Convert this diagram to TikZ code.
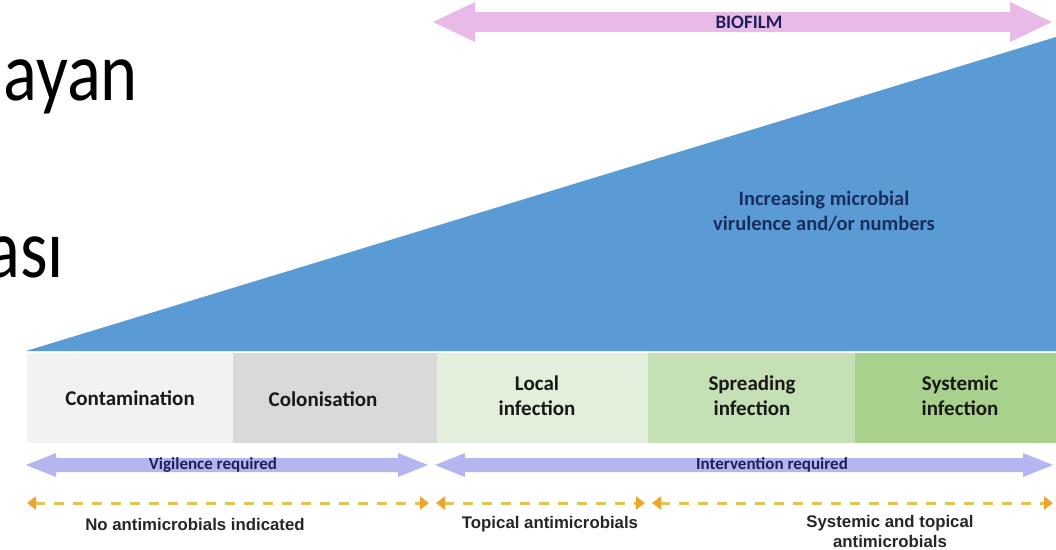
\documentclass[tikz,border=0pt]{standalone}
\usepackage{fontspec}
\setmainfont{Carlito}
\newfontfamily\arialf{Liberation Sans}
\usetikzlibrary{arrows.meta}
\definecolor{triblue}{RGB}{91,155,213}
\definecolor{biopink}{RGB}{233,186,232}
\definecolor{lav}{RGB}{180,182,240}
\definecolor{cA}{RGB}{242,242,242}
\definecolor{cB}{RGB}{217,217,217}
\definecolor{cC}{RGB}{226,239,218}
\definecolor{cD}{RGB}{197,224,180}
\definecolor{cE}{RGB}{169,209,142}
\definecolor{navy}{RGB}{30,32,90}
\definecolor{navyB}{RGB}{25,45,95}
\definecolor{goldd}{RGB}{226,196,84}
\definecolor{orangetip}{RGB}{238,165,45}
\newcommand\mydblarrow[7]{%
  \fill[#7] (#1,#3) -- ({#1+#4},{#3-#5}) -- ({#1+#4},{#3-#6}) -- ({#2-#4},{#3-#6}) -- ({#2-#4},{#3-#5}) -- (#2,#3)
    -- ({#2-#4},{#3+#5}) -- ({#2-#4},{#3+#6}) -- ({#1+#4},{#3+#6}) -- ({#1+#4},{#3+#5}) -- cycle;}
\tikzset{
  stagebox/.style={anchor=north west, minimum height=90pt, inner sep=0pt},
  stagelbl/.style={inner sep=0pt, align=center,
    font=\bfseries\fontsize{21}{25}\selectfont, text=black!90},
  arrlbl/.style={inner sep=0pt, font=\bfseries\fontsize{17}{20}\selectfont, text=navy},
  bottomlbl/.style={inner sep=0pt, align=center, font=\arialf\bfseries\fontsize{16.8}{20}\selectfont, text=black!85},
  dasharr/.style={draw=goldd, line width=3pt, dash pattern=on 10pt off 9pt,
    {Triangle[length=9pt,width=13pt,color=orangetip]}-{Triangle[length=9pt,width=13pt,color=orangetip]}},
  bigtxt/.style={anchor=base east, inner sep=0pt, font=\fontsize{84}{84}\selectfont, xscale=0.84, transform shape}
}
\begin{document}
\begin{tikzpicture}[x=1pt,y=-1pt]
\useasboundingbox (0,0) rectangle (1056,549);
\fill[white] (0,0) rectangle (1056,549);
\begin{scope}
\clip (0,0) rectangle (1056,549);
\node[bigtxt] (t1) at (138,100) {ayan};
\node[bigtxt] (t2) at (64,277) {ası};
\end{scope}
% biofilm arrow
\mydblarrow{433}{1052}{22}{42}{20}{10}{biopink}
\node[arrlbl, font=\bfseries\fontsize{19}{20}\selectfont] (bio) at (749,22) {BIOFILM};
% triangle
\fill[triblue] (26,351) -- (1056,37) -- (1056,351) -- cycle;
\node[inner sep=0pt, align=center, font=\bfseries\fontsize{20.5}{25}\selectfont, text=navyB] (incr) at (824,211)
  {Increasing microbial\\virulence and/or numbers};
% stage boxes
\node[stagebox, fill=cA, minimum width=206pt] (cont) at (27,353) {};
\node[stagebox, fill=cB, minimum width=204pt] (colo) at (233,353) {};
\node[stagebox, fill=cC, minimum width=211pt] (loc) at (437,353) {};
\node[stagebox, fill=cD, minimum width=207pt] (spr) at (648,353) {};
\node[stagebox, fill=cE, minimum width=201pt] (sys) at (855,353) {};
\node[stagelbl] (contl) at (130,398) {Contamination};
\node[stagelbl] (colol) at (323,399) {Colonisation};
\node[stagelbl] (locl) at (537,396) {Local\\infection};
\node[stagelbl] (sprl) at (752,396) {Spreading\\infection};
\node[stagelbl] (sysl) at (960,396) {Systemic\\infection};
% lavender arrows
\mydblarrow{26}{428}{465}{30}{12}{7}{lav}
\mydblarrow{435}{1053}{465}{30}{12}{7}{lav}
\node[arrlbl] (vig) at (213,465) {Vigilence required};
\node[arrlbl] (intv) at (772,465) {Intervention required};
% dashed arrows
\coordinate (d1a) at (27,503); \coordinate (d1b) at (429,503);
\coordinate (d2a) at (436,503); \coordinate (d2b) at (645,503);
\coordinate (d3a) at (652,503); \coordinate (d3b) at (1053,503);
\draw[dasharr] (d1a) -- (d1b);
\draw[dasharr] (d2a) -- (d2b);
\draw[dasharr] (d3a) -- (d3b);
% bottom labels
\node[bottomlbl] (noanti) at (195,524) {No antimicrobials indicated};
\node[bottomlbl] (topi) at (550,524) {Topical antimicrobials};
\node[bottomlbl] (systop) at (890,531) {Systemic and topical\\antimicrobials};
\end{tikzpicture}
\end{document}
